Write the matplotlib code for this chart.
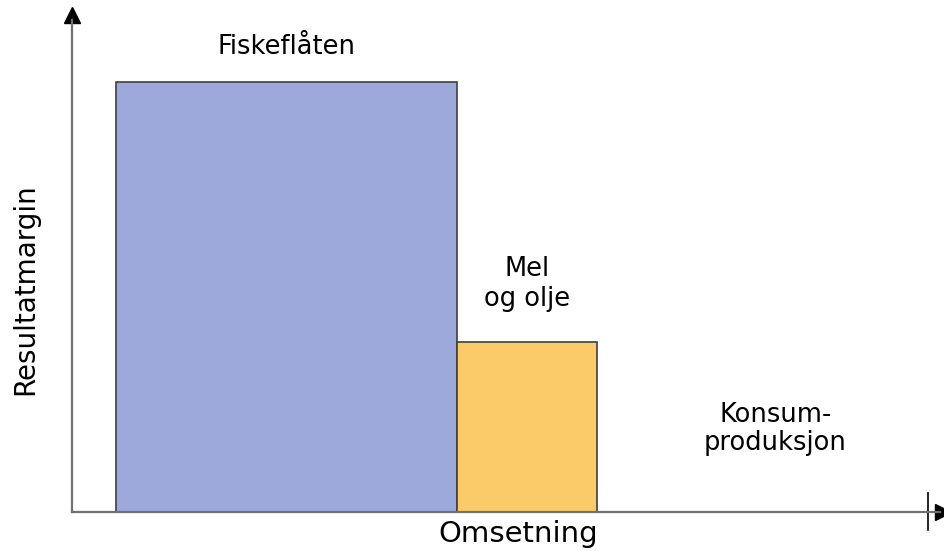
import matplotlib.pyplot as plt

segments = ['Fiskeflåten', 'Mel\nog olje', 'Konsum-\nproduksjon']
omsetning = [341, 140, 331]   # bar widths
margin = [430, 170, 0]        # bar heights
colors = ['#9da8db', '#fccb69', '#ffffff']
label_y = [465, 228, 83]      # text centre heights
label_dx = [0, 0, 13]

fig = plt.figure(figsize=(9.44, 5.51), dpi=100)
ax = fig.add_axes([72/944, 39/551, 868/944, 492/551])

lefts = [sum(omsetning[:i]) for i in range(len(omsetning))]
ax.bar(lefts, margin, width=omsetning, align='edge', color=colors,
       edgecolor='#404040', linewidth=1.2, zorder=2)

for x0, w, ly, dx, lab in zip(lefts, omsetning, label_y, label_dx, segments):
    ax.text(x0 + w/2 + dx, ly, lab, ha='center', va='center', fontsize=18.5,
            linespacing=1.15, color='black')

ax.set_xlim(-44, 824)
ax.set_ylim(0, 492)
ax.set_xticks([])
ax.set_yticks([])
for s in ['top', 'right']:
    ax.spines[s].set_visible(False)
for s in ['left', 'bottom']:
    ax.spines[s].set_color('#707070')
    ax.spines[s].set_linewidth(1.6)
    ax.spines[s].set_zorder(3)

# arrow heads
ax.plot([0], [1.01], marker='^', markersize=11, color='black',
        transform=ax.transAxes, clip_on=False)
ax.plot([1.003], [0], marker='>', markersize=11, color='black',
        transform=ax.transAxes, clip_on=False)
# end tick on x axis
total = sum(omsetning)
ax.plot([total, total], [-18, 19], color='black', linewidth=1.2, clip_on=False)

ax.text(402, -22, 'Omsetning', ha='center', va='center', fontsize=21)
fig.text(25/944, 1 - 289/551, 'Resultatmargin', rotation=90, ha='center',
         va='center', fontsize=20)

fig.savefig('out.png', dpi=100)
